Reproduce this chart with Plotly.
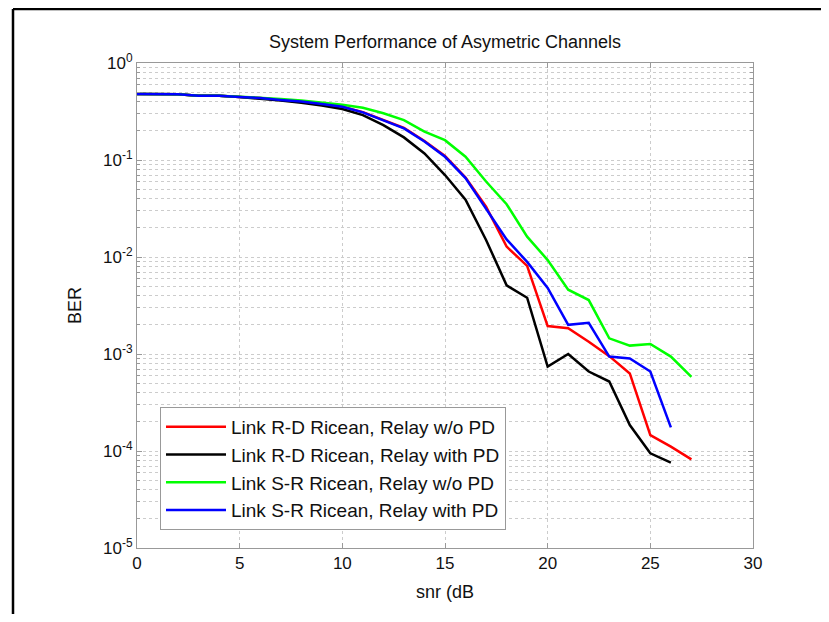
import plotly.graph_objects as go

snr_rd_nopd = list(range(0, 28))
ber_rd_nopd = [0.48, 0.48, 0.475, 0.46, 0.46, 0.447, 0.435, 0.415, 0.40, 0.378, 0.355,
               0.312, 0.26, 0.215, 0.157, 0.11, 0.066, 0.033, 0.0128, 0.0081, 0.00194,
               0.00184, 0.00134, 0.00095, 0.00063, 0.000146, 0.000111, 0.000082]

snr_rd_pd = list(range(0, 27))
ber_rd_pd = [0.48, 0.48, 0.475, 0.46, 0.46, 0.445, 0.43, 0.41, 0.39, 0.365, 0.335,
             0.29, 0.229, 0.171, 0.117, 0.070, 0.039, 0.015, 0.0051, 0.0038, 0.00074,
             0.001, 0.00066, 0.00052, 0.000185, 0.0000946, 0.000076]

snr_sr_nopd = list(range(0, 28))
ber_sr_nopd = [0.48, 0.48, 0.475, 0.46, 0.46, 0.45, 0.44, 0.425, 0.41, 0.39, 0.372,
               0.345, 0.303, 0.258, 0.196, 0.16, 0.108, 0.06, 0.035, 0.0162, 0.0093,
               0.0046, 0.0036, 0.00145, 0.00122, 0.00127, 0.00094, 0.00058]

snr_sr_pd = list(range(0, 27))
ber_sr_pd = [0.48, 0.48, 0.475, 0.46, 0.46, 0.447, 0.435, 0.415, 0.40, 0.378, 0.354,
             0.31, 0.258, 0.212, 0.155, 0.108, 0.065, 0.031, 0.0152, 0.0089, 0.0048,
             0.0020, 0.0021, 0.00094, 0.00090, 0.00066, 0.000175]

names = ["Link R-D Ricean, Relay w/o PD", "Link R-D Ricean, Relay with PD",
         "Link S-R Ricean, Relay w/o PD", "Link S-R Ricean, Relay with PD"]
colors = ["#ff0000", "#000000", "#00ff00", "#0000ff"]

y_major = [1e-5, 1e-4, 1e-3, 1e-2, 1e-1, 1e0]
y_major_text = ["10<sup>-5</sup>", "10<sup>-4</sup>", "10<sup>-3</sup>",
                "10<sup>-2</sup>", "10<sup>-1</sup>", "10<sup>0</sup>"]
x_ticks = [0, 5, 10, 15, 20, 25, 30]

y_minor = [m * 10 ** e for e in range(-5, 0) for m in range(2, 10)]

fig = go.Figure()
series = [(snr_rd_nopd, ber_rd_nopd), (snr_rd_pd, ber_rd_pd),
          (snr_sr_nopd, ber_sr_nopd), (snr_sr_pd, ber_sr_pd)]
for (xs, ys), n, c in zip(series, names, colors):
    fig.add_trace(go.Scatter(x=xs, y=ys, mode="lines", name=n,
                             line=dict(color=c, width=2.5)))

# page has an 8px body margin; keep figure inside the window (no scrollbars)
OFF = 8
W, H = 829 - 2 * OFF, 622 - 2 * OFF
PL, PR, PT, PB = 137, 753, 63, 548  # plot area in page pixels

font = "Liberation Sans, Arial, sans-serif"
grid_c = "#cccccc"
fig.update_layout(
    width=W, height=H,
    paper_bgcolor="white", plot_bgcolor="white",
    margin=dict(l=PL - OFF, r=(OFF + W) - PR, t=PT - OFF, b=(OFF + H) - PB),
    font=dict(family=font, size=17, color="#111"),
    title=dict(text="System Performance of Asymetric Channels",
               x=((PL + PR) / 2 - OFF) / W, xanchor="center",
               y=1 - (42 - OFF) / H, yanchor="middle",
               font=dict(size=18, family=font, color="#111")),
    showlegend=True,
    legend=dict(x=(160 - PL) / (PR - PL), y=(PB - 407) / (PB - PT),
                xanchor="left", yanchor="top",
                bgcolor="white", bordercolor="#999", borderwidth=1,
                font=dict(size=19, family=font, color="#111"),
                tracegroupgap=0, itemwidth=60),
)
fig.update_xaxes(
    range=[0, 30], tickvals=x_ticks, ticktext=[str(v) for v in x_ticks],
    showgrid=True, gridcolor=grid_c, griddash="dot", gridwidth=1,
    showline=True, linecolor="#999", linewidth=1, mirror="ticks",
    ticks="inside", ticklen=5, tickcolor="#999", zeroline=False,
    title=dict(text="snr (dB", font=dict(size=18, family=font), standoff=12),
    tickfont=dict(size=17),
)
fig.update_yaxes(
    type="log", range=[-5, 0], tickvals=y_major, ticktext=y_major_text,
    showgrid=True, gridcolor=grid_c, griddash="dot", gridwidth=1,
    showline=True, linecolor="#999", linewidth=1, mirror="ticks",
    ticks="inside", ticklen=5, tickcolor="#999", zeroline=False,
    minor=dict(tickvals=y_minor, showgrid=True, gridcolor=grid_c, griddash="dot",
               ticks="inside", ticklen=3, tickcolor="#999"),
    title=dict(text="BER", font=dict(size=18, family=font), standoff=16),
    tickfont=dict(size=17),
)

# outer figure frame (left and top edges)
x_left = (13 - PL) / (PR - PL)
x_right = (840 - PL) / (PR - PL)
y_top = (PB - 9) / (PB - PT)
y_bot = (PB - 640) / (PB - PT)
fig.add_shape(type="line", xref="paper", yref="paper", x0=x_left, x1=x_left,
              y0=y_bot, y1=y_top, line=dict(color="black", width=2.5))
fig.add_shape(type="line", xref="paper", yref="paper", x0=x_left, x1=x_right,
              y0=y_top, y1=y_top, line=dict(color="black", width=2.5))

fig.write_html("out.html")
